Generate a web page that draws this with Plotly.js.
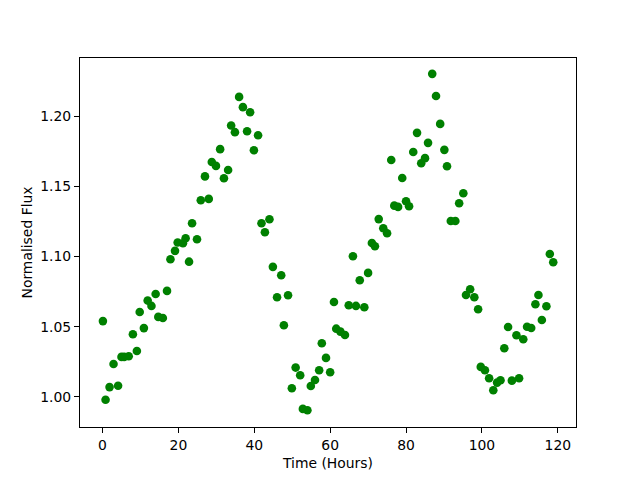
<!DOCTYPE html>
<html>
<head>
<meta charset="utf-8">
<script src="https://cdn.plot.ly/plotly-3.0.1.min.js"></script>
<style>html,body{margin:0;padding:0;background:#fff;}#chart{width:640px;height:480px;}</style>
</head>
<body>
<div id="chart"></div>
<script>
const timeHours = [0.1,0.8,1.85,2.9,4.1,5.0,5.7,6.9,8.0,9.05,9.8,10.9,11.9,12.9,14.0,14.7,15.9,17.0,17.9,19.1,19.8,21.2,21.9,22.8,23.6,24.9,25.9,27.0,28.0,28.8,29.9,31.0,32.0,33.1,33.9,34.9,36.0,37.0,38.1,38.9,39.9,41.0,41.9,42.8,44.0,44.9,46.0,47.1,47.8,48.9,49.9,50.9,52.1,52.8,54.0,54.9,56.0,57.1,57.8,58.9,60.0,61.0,61.6,62.7,63.9,64.9,66.0,66.8,67.8,69.0,70.0,71.0,71.8,72.8,74.0,75.0,76.1,76.9,77.9,79.0,80.0,80.8,81.9,82.9,84.0,85.0,85.8,86.9,87.9,89.0,90.1,90.8,91.8,93.0,94.0,95.1,95.8,96.9,98.0,99.0,99.7,100.8,101.9,103.0,104.0,104.9,105.9,106.9,107.9,109.1,109.8,110.9,111.9,113.0,114.1,114.9,115.8,117.0,117.9,118.8];
const normFlux = [1.054,0.998,1.007,1.0235,1.008,1.0285,1.0285,1.029,1.0446,1.0327,1.0605,1.049,1.0686,1.0648,1.0733,1.057,1.0562,1.0755,1.098,1.104,1.110,1.1094,1.113,1.0963,1.1237,1.1123,1.140,1.157,1.141,1.1673,1.1645,1.1764,1.1557,1.1616,1.1932,1.1885,1.2136,1.2063,1.1892,1.2027,1.1756,1.1863,1.1237,1.1173,1.1265,1.0926,1.071,1.0866,1.051,1.0724,1.0062,1.0209,1.0154,0.9915,0.9905,1.0078,1.0121,1.019,1.0382,1.0278,1.0176,1.0676,1.0486,1.0465,1.0441,1.0653,1.1002,1.0648,1.0831,1.0639,1.0883,1.1096,1.1073,1.1266,1.1201,1.1165,1.1687,1.1362,1.1353,1.1559,1.1393,1.1358,1.1744,1.188,1.1664,1.17,1.1809,1.23,1.2143,1.1944,1.1759,1.1642,1.1253,1.1253,1.1379,1.145,1.0726,1.0767,1.071,1.0624,1.0214,1.019,1.0133,1.0048,1.0102,1.0119,1.0347,1.0498,1.0116,1.0439,1.0133,1.0411,1.05,1.0491,1.066,1.0726,1.0548,1.0646,1.1018,1.0959];
const xTicks = [0,20,40,60,80,100,120];
const yTicks = [1.00,1.05,1.10,1.15,1.20];

const font = {family: 'DejaVu Sans', size: 13.9, color: '#000'};
const trace = {
  x: timeHours, y: normFlux, type: 'scatter', mode: 'markers',
  marker: {color: '#008000', size: 8.6, line: {width: 0}},
  hoverinfo: 'none'
};
const axisCommon = {
  showgrid: false, zeroline: false, showline: true, linecolor: '#000', linewidth: 1,
  mirror: true, ticks: 'outside', ticklen: 5, tickwidth: 1, tickcolor: '#000',
  tickfont: font
};
const layout = {
  width: 640, height: 480,
  margin: {l: 80, r: 64, t: 58, b: 53},
  paper_bgcolor: '#fff', plot_bgcolor: '#fff',
  showlegend: false,
  font: font,
  xaxis: Object.assign({}, axisCommon, {
    range: [-5.94, 124.8], tickvals: xTicks, ticktext: xTicks.map(String),
    title: {text: 'Time (Hours)', font: font, standoff: 6}
  }),
  yaxis: Object.assign({}, axisCommon, {
    range: [0.9786, 1.2413], tickvals: yTicks, ticktext: yTicks.map(v => v.toFixed(2)),
    title: {text: 'Normalised Flux', font: font, standoff: 4}
  })
};
Plotly.newPlot('chart', [trace], layout, {staticPlot: true, displayModeBar: false});
</script>
</body>
</html>
